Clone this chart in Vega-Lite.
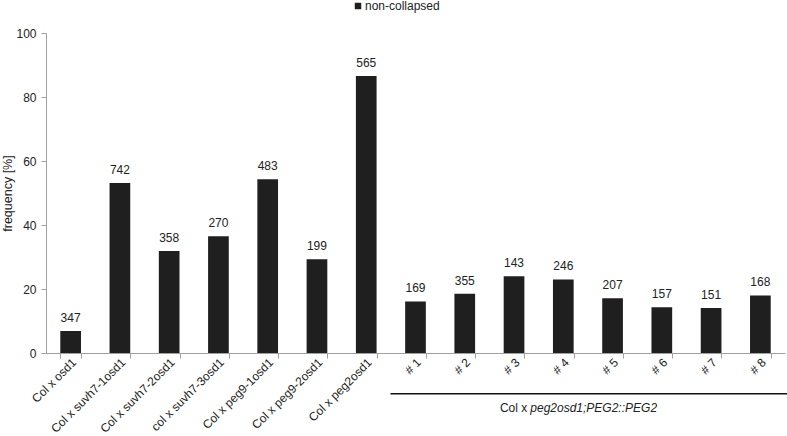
{
  "$schema": "https://vega.github.io/schema/vega-lite/v6.json",
  "width": 739,
  "height": 320,
  "autosize": "none",
  "padding": {"left": 46, "top": 33, "right": 2, "bottom": 83},
  "config": {
    "font": "Liberation Sans",
    "view": {"stroke": null},
    "axis": {"grid": false}
  },
  "data": {
    "values": [
      {"genotype": "Col x osd1", "frequency": 6.9, "n": "347"},
      {"genotype": "Col x suvh7-1osd1", "frequency": 53.1, "n": "742"},
      {"genotype": "Col x suvh7-2osd1", "frequency": 31.9, "n": "358"},
      {"genotype": "col x suvh7-3osd1", "frequency": 36.5, "n": "270"},
      {"genotype": "Col x peg9-1osd1", "frequency": 54.3, "n": "483"},
      {"genotype": "Col x peg9-2osd1", "frequency": 29.3, "n": "199"},
      {"genotype": "Col x peg2osd1", "frequency": 86.6, "n": "565"},
      {"genotype": "# 1", "frequency": 16.1, "n": "169"},
      {"genotype": "# 2", "frequency": 18.5, "n": "355"},
      {"genotype": "# 3", "frequency": 24.0, "n": "143"},
      {"genotype": "# 4", "frequency": 23.0, "n": "246"},
      {"genotype": "# 5", "frequency": 17.1, "n": "207"},
      {"genotype": "# 6", "frequency": 14.3, "n": "157"},
      {"genotype": "# 7", "frequency": 14.1, "n": "151"},
      {"genotype": "# 8", "frequency": 18.0, "n": "168"}
    ]
  },
  "encoding": {
    "x": {
      "field": "genotype",
      "type": "nominal",
      "sort": null,
      "scale": {"paddingInner": 0.58, "paddingOuter": 0.29},
      "axis": {
        "title": null,
        "domainColor": "#a0a0a0",
        "tickColor": "#a0a0a0",
        "tickBand": "extent",
        "tickSize": 5,
        "labelAngle": -45,
        "labelAlign": "right",
        "labelBaseline": "middle",
        "labelFontSize": 12,
        "labelColor": "#222222",
        "labelPadding": 2,
        "labelOffset": 3
      }
    }
  },
  "layer": [
    {
      "mark": {"type": "bar"},
      "encoding": {
        "y": {
          "field": "frequency",
          "type": "quantitative",
          "scale": {"domain": [0, 100], "nice": false},
          "axis": {
            "title": "frequency [%]",
            "values": [0, 20, 40, 60, 80, 100],
            "domainColor": "#a0a0a0",
            "tickColor": "#a0a0a0",
            "tickSize": 5,
            "labelPadding": 5,
            "labelFontSize": 12,
            "labelColor": "#222222",
            "titleFontSize": 12.5,
            "titleFontWeight": "normal",
            "titleColor": "#222222",
            "titlePadding": 1
          }
        },
        "color": {
          "datum": "non-collapsed",
          "type": "nominal",
          "scale": {"range": ["#1f1f1f"]},
          "legend": {
            "orient": "none",
            "legendX": 306,
            "legendY": -33,
            "title": null,
            "symbolType": "square",
            "symbolSize": 42,
            "symbolStrokeWidth": 0,
            "labelFontSize": 12,
            "labelColor": "#222222",
            "labelOffset": 1,
            "padding": 0
          }
        }
      }
    },
    {
      "mark": {"type": "text", "baseline": "bottom", "dy": -6, "fontSize": 12, "color": "#222222"},
      "encoding": {
        "y": {"field": "frequency", "type": "quantitative"},
        "text": {"field": "n"}
      }
    },
    {
      "data": {"values": [{"from": "# 1", "to": "# 8", "plain": "Col x", "italic": "peg2osd1;PEG2::PEG2"}]},
      "layer": [
        {
          "mark": {"type": "rule", "color": "#111111", "strokeWidth": 1.5, "xOffset": -25, "x2Offset": 27},
          "encoding": {
            "x": {"field": "from", "type": "nominal"},
            "x2": {"field": "to"},
            "y": {"datum": -12.7}
          }
        },
        {
          "mark": {"type": "text", "align": "right", "baseline": "middle", "dx": -36, "fontSize": 12, "color": "#222222"},
          "encoding": {
            "x": {"datum": "# 4", "type": "nominal"},
            "y": {"datum": -17.1},
            "text": {"field": "plain"}
          }
        },
        {
          "mark": {"type": "text", "align": "left", "baseline": "middle", "dx": -33, "fontSize": 12, "fontStyle": "italic", "color": "#222222"},
          "encoding": {
            "x": {"datum": "# 4", "type": "nominal"},
            "y": {"datum": -17.1},
            "text": {"field": "italic"}
          }
        }
      ]
    }
  ]
}
